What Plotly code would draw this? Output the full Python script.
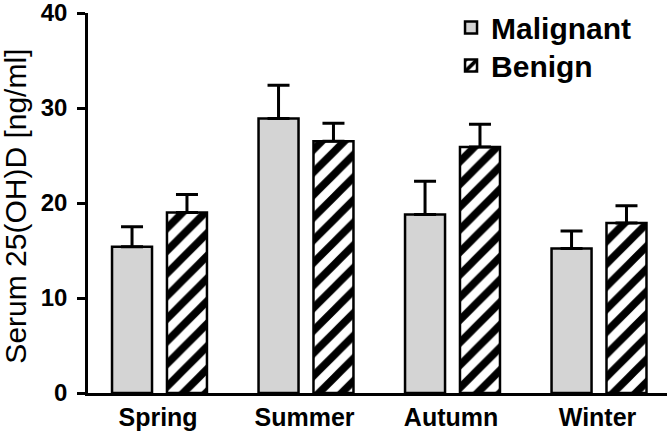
import plotly.graph_objects as go

seasons = ["Spring", "Summer", "Autumn", "Winter"]
malignant = [15.4, 28.9, 18.8, 15.2]
malignant_err = [2.1, 3.5, 3.5, 1.85]
benign = [19.0, 26.5, 25.9, 17.9]
benign_err = [1.9, 1.9, 2.4, 1.8]
y_title = "Serum 25(OH)D [ng/ml]"

FONT = "Liberation Sans, Arial, sans-serif"

fig = go.Figure()
fig.add_trace(go.Bar(
    x=seasons, y=malignant, name="Malignant", legend="legend", showlegend=True,
    width=0.273, offset=-0.314,
    marker=dict(color="#d4d4d4", line=dict(color="black", width=2.5)),
    error_y=dict(type="data", array=malignant_err, symmetric=False,
                 arrayminus=[0] * 4, color="black", thickness=3, width=11),
))
fig.add_trace(go.Bar(
    x=seasons, y=benign, name="Benign", legend="legend2", showlegend=True,
    width=0.273, offset=0.061,
    marker=dict(color="white", line=dict(color="black", width=2.5),
                pattern=dict(shape="/", fgcolor="black", bgcolor="white",
                             fgopacity=1, fillmode="replace",
                             size=16, solidity=0.47)),
    error_y=dict(type="data", array=benign_err, symmetric=False,
                 arrayminus=[0] * 4, color="black", thickness=3, width=11),
))

legend_style = dict(xanchor="left", yanchor="top",
                    font=dict(family=FONT, size=30, weight=700),
                    bgcolor="rgba(0,0,0,0)")

fig.update_layout(
    width=669, height=437,
    margin=dict(l=88, r=2, t=13, b=44, autoexpand=False),
    paper_bgcolor="white", plot_bgcolor="white",
    barmode="overlay",
    font=dict(family=FONT, color="black"),
    legend=dict(x=0.627, y=1.03, **legend_style),
    legend2=dict(x=0.627, y=0.93, **legend_style),
    xaxis=dict(range=[-0.478, 3.474], showline=True, linecolor="black",
               linewidth=2.5, ticks="", showgrid=False, automargin=False,
               ticklabeloverflow="allow",
               tickfont=dict(family=FONT, size=25, weight=700)),
    yaxis=dict(range=[0, 40], tickvals=[0, 10, 20, 30, 40],
               showline=True, linecolor="black", linewidth=2.5,
               ticks="outside", ticklen=8, tickwidth=2.5, tickcolor="black",
               showgrid=False, zeroline=False, automargin=False,
               ticklabelstandoff=5, ticklabeloverflow="allow",
               tickfont=dict(family=FONT, size=24, weight=700)),
    annotations=[dict(text=y_title, xref="paper", yref="paper",
                      x=-0.1244, y=0.493, xanchor="center", yanchor="middle",
                      textangle=-90, showarrow=False,
                      font=dict(family=FONT, size=30, color="black"))],
)

fig.write_html("out.html",
               config={"displayModeBar": False},
               post_script="document.body.style.margin='0';"
                           "document.body.style.padding='0';")
